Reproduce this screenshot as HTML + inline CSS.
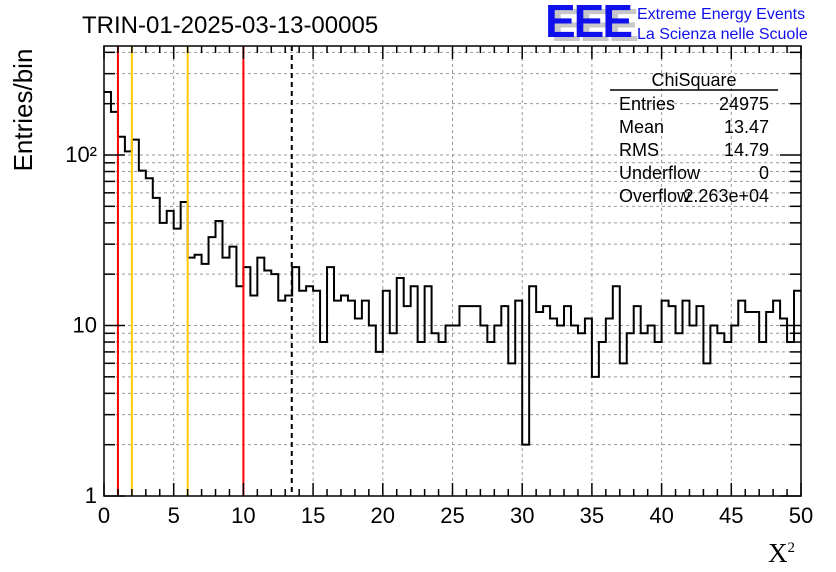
<!DOCTYPE html>
<html><head><meta charset="utf-8"><style>
body{margin:0;background:#fff;}
svg{display:block;font-family:"Liberation Sans",sans-serif;}
</style></head><body>
<svg id="c" width="836" height="572">
<rect width="836" height="572" fill="#fff"/>
<text x="82" y="33" font-size="24">TRIN-01-2025-03-13-00005</text>
<g>
<text x="551" y="41" font-size="46" font-weight="bold" fill="#c8c8c8" letter-spacing="-2">EEE</text>
<text x="545" y="37" font-size="46" font-weight="bold" fill="#1010ee" letter-spacing="-2">EEE</text>
</g>
<text x="637" y="19" font-size="16" fill="#1010ee">Extreme Energy Events</text>
<text x="637" y="39" font-size="16" fill="#1010ee">La Scienza nelle Scuole</text>
<g id="grid"></g>
<g id="hist"></g>
<g id="vlines"></g>
<rect x="104" y="46" width="697" height="450" fill="none" stroke="#000" stroke-width="1.5"/>
<g id="axes"></g>
<text transform="translate(32,110) rotate(-90)" text-anchor="middle" font-size="26">Entries/bin</text>
<text x="768" y="562" font-size="27" font-family="Liberation Serif,serif">X<tspan font-size="15" dy="-10">2</tspan></text>
<g font-size="18">
<text x="694" y="86" text-anchor="middle">ChiSquare</text>
<line x1="610" y1="90" x2="778" y2="90" stroke="#000" stroke-width="1.5"/>
<text x="619" y="110">Entries</text><text x="769" y="110" text-anchor="end">24975</text>
<text x="619" y="133">Mean</text><text x="769" y="133" text-anchor="end">13.47</text>
<text x="619" y="156">RMS</text><text x="769" y="156" text-anchor="end">14.79</text>
<text x="619" y="179">Underflow</text><text x="769" y="179" text-anchor="end">0</text>
<text x="619" y="202">Overflow</text><text x="769" y="202" text-anchor="end">2.263e+04</text>
</g>
</svg>
<script>
const counts=[234,179,128,105,123,81,73,56,40,47,37,53,25,26,23,33,41,25,29,17,22,15,25,21,20,14,15,22,16,17,16,8,22,14,15,14,11,14,10,7,16,9,19,13,17,8,17,9,8,10,10,13,13,13,10,8,10,13,6,14,2,17,12,13,11,10,13,10,9,11,5,8,11,17,6,9,13,9,10,8,14,13,9,14,10,13,6,10,9,8,10,14,12,12,8,12,14,11,8,16];
const binWidth=0.5;
const xTicks=[0,5,10,15,20,25,30,35,40,45,50];
const yTicks=[1,10,100];
const yTickLabels=["1","10","10²"];
const cutsRed=[1,10];
const cutsYellow=[2,6];
const meanVal=13.47;
const NS='http://www.w3.org/2000/svg';
const X=v=>104+v*(697/50);
const Y=v=>496-170.5*Math.log10(v);
function mk(p,t,a){const e=document.createElementNS(NS,t);for(const k in a)e.setAttribute(k,a[k]);p.appendChild(e);return e;}
const grid=document.getElementById('grid'),axes=document.getElementById('axes'),hist=document.getElementById('hist'),vl=document.getElementById('vlines');
xTicks.forEach(t=>{if(t>0&&t<50){const l=mk(grid,'line',{x1:X(t),x2:X(t),y1:46,y2:496,stroke:'#999','stroke-dasharray':'3,3'});

}});
for(let d=1;d<=100;d*=10)for(let m=1;m<=9;m++){const v=d*m;if(Y(v)<46)continue;
if(v>1){const l=mk(grid,'line',{x1:104,x2:801,y1:Y(v),y2:Y(v),stroke:'#999','stroke-dasharray':'3,3'});

}
const len=m===1?21:11;
mk(axes,'line',{x1:104,x2:104+len,y1:Y(v),y2:Y(v),stroke:'#000','stroke-width':1.5});
mk(axes,'line',{x1:801,x2:801-len,y1:Y(v),y2:Y(v),stroke:'#000','stroke-width':1.5});}
for(let t=0;t<=50;t++){const len=t%5===0?13:7;
mk(axes,'line',{x1:X(t),x2:X(t),y1:496,y2:496-len,stroke:'#000','stroke-width':1.5});
mk(axes,'line',{x1:X(t),x2:X(t),y1:46,y2:46+len,stroke:'#000','stroke-width':1.5});}
xTicks.forEach(t=>{const e=mk(axes,'text',{x:X(t),y:523,'text-anchor':'middle','font-size':22});e.textContent=t;

});
yTicks.forEach((t,i)=>{const e=mk(axes,'text',{x:97,y:Y(t)+7,'text-anchor':'end','font-size':22});e.textContent=yTickLabels[i];

});
let d='M'+X(0)+','+Y(counts[0]);
counts.forEach((c,i)=>{d+=' L'+X(i*binWidth)+','+Y(c)+' L'+X((i+1)*binWidth)+','+Y(c);});
const p=mk(hist,'path',{d:d,fill:'none',stroke:'#000','stroke-width':2});


cutsRed.forEach(v=>{const l=mk(vl,'line',{x1:X(v),x2:X(v),y1:46,y2:496,stroke:'#f00','stroke-width':2});

});
cutsYellow.forEach(v=>{const l=mk(vl,'line',{x1:X(v),x2:X(v),y1:46,y2:496,stroke:'#fc0','stroke-width':2});

});
const ml=mk(vl,'line',{x1:X(meanVal),x2:X(meanVal),y1:46,y2:496,stroke:'#000','stroke-width':2,'stroke-dasharray':'5,4'});


</script>
</body></html>
